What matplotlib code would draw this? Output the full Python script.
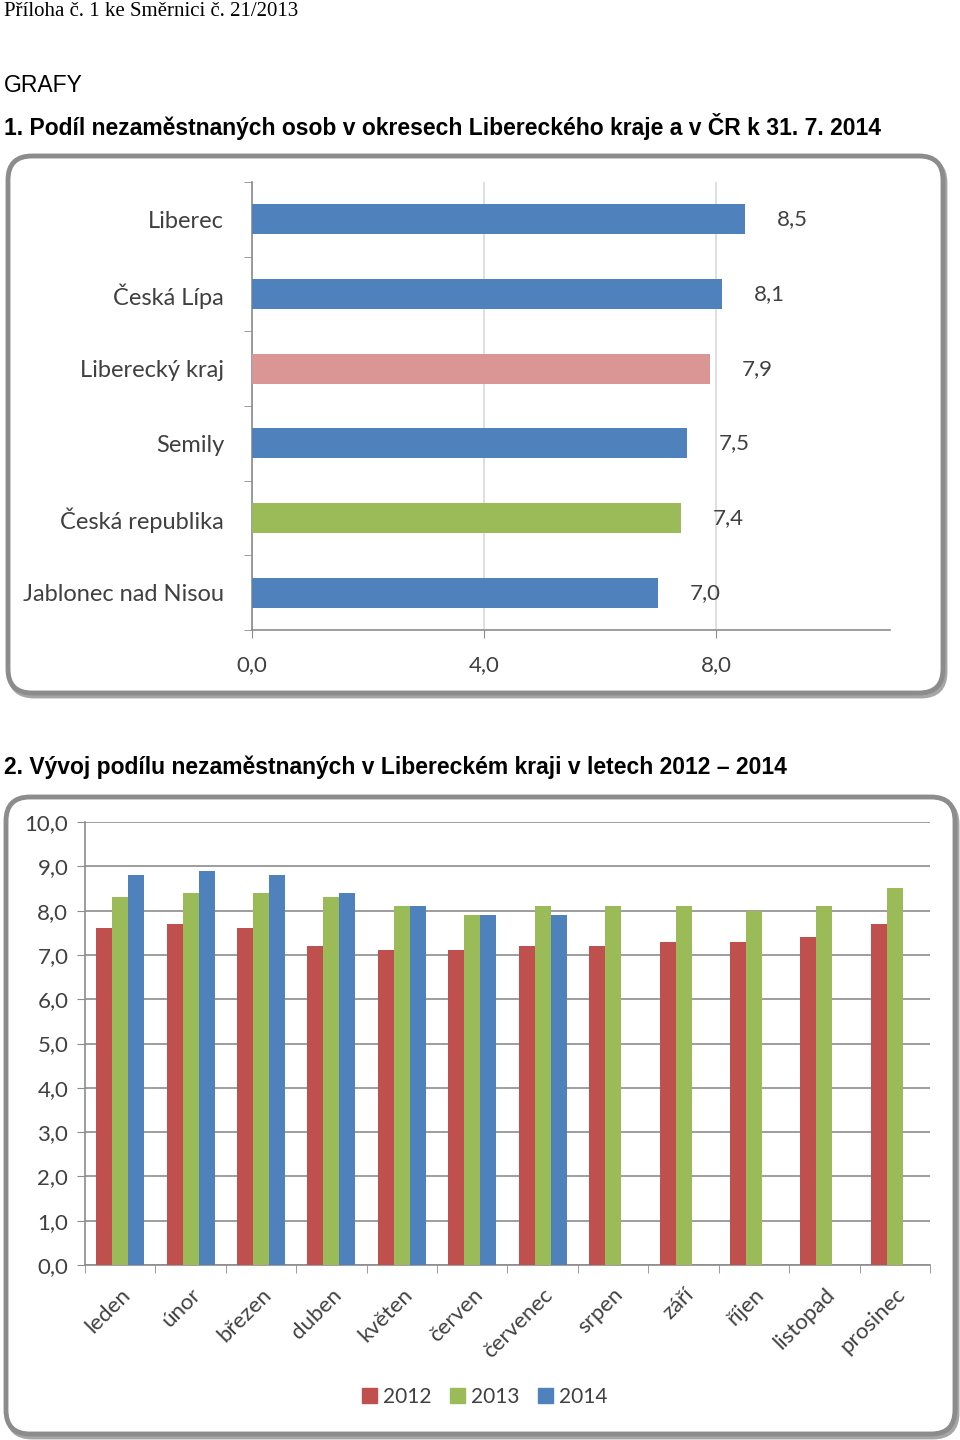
import numpy as np
import matplotlib.pyplot as plt
from matplotlib.patches import FancyBboxPatch, Patch
from matplotlib.ticker import FixedLocator, FuncFormatter

# chart 1 data
okresy = ["Liberec", "Česká Lípa", "Liberecký kraj", "Semily", "Česká republika", "Jablonec nad Nisou"]
podil = [8.5, 8.1, 7.9, 7.5, 7.4, 7.0]
barvy_okresy = ["#4F81BD", "#4F81BD", "#DA9694", "#4F81BD", "#9BBB59", "#4F81BD"]

# chart 2 data
mesice = ["leden", "únor", "březen", "duben", "květen", "červen", "červenec",
          "srpen", "září", "říjen", "listopad", "prosinec"]
roky = ["2012", "2013", "2014"]
r2012 = [7.6, 7.7, 7.6, 7.2, 7.1, 7.1, 7.2, 7.2, 7.3, 7.3, 7.4, 7.7]
r2013 = [8.3, 8.4, 8.4, 8.3, 8.1, 7.9, 8.1, 8.1, 8.1, 8.0, 8.1, 8.5]
r2014 = [8.8, 8.9, 8.8, 8.4, 8.1, 7.9, 7.9]
barvy_roky = ["#C0504D", "#9BBB59", "#4F81BD"]

W, H = 960, 1440
txt = "#404040"
font_chart = ["Lato", "DejaVu Sans"]

fig = plt.figure(figsize=(W / 100, H / 100), dpi=100)


def fax(x0, y0, x1, y1):
    # pixel box -> figure axes
    return fig.add_axes([x0 / W, 1 - y1 / H, (x1 - x0) / W, (y1 - y0) / H])


# background layer for the rounded frames and headings
bg = fig.add_axes([0, 0, 1, 1], zorder=-1)
bg.set_xlim(0, W)
bg.set_ylim(H, 0)
bg.axis("off")

for (x0, y0, x1, y1) in [(8, 156, 943, 693), (6, 797, 955, 1434)]:
    bg.add_patch(FancyBboxPatch((x0 + 2, y0 + 3), x1 - x0, y1 - y0,
                                boxstyle="round,pad=0,rounding_size=24",
                                fc="none", ec="#a6a6a6", lw=3.5))
    bg.add_patch(FancyBboxPatch((x0, y0), x1 - x0, y1 - y0,
                                boxstyle="round,pad=0,rounding_size=24",
                                fc="white", ec="#8c8c8c", lw=3.5))

bg.text(4, 11, "Příloha č. 1 ke Směrnici č. 21/2013", family="Liberation Serif",
        fontsize=15, va="center", ha="left")
bg.text(4, 85, "GRAFY", family="Liberation Sans", fontsize=16.5, va="center", ha="left")
bg.text(4, 126, "1. Podíl nezaměstnaných osob v okresech Libereckého kraje a v ČR k 31. 7. 2014",
        family="Liberation Sans", fontweight="bold", fontsize=16.5, va="center", ha="left")
bg.text(4, 767, "2. Vývoj podílu nezaměstnaných v Libereckém kraji v letech 2012 – 2014",
        family="Liberation Sans", fontweight="bold", fontsize=16.5, va="center", ha="left")

# chart 1
ax1 = fax(252, 182, 890, 630)
y = np.arange(len(okresy))
ax1.barh(y, podil, height=0.4, color=barvy_okresy, zorder=3)
for yi, v in zip(y, podil):
    ax1.text(v + 0.55, yi, f"{v:.1f}".replace(".", ","), va="center", ha="left",
             fontsize=16, color=txt, family=font_chart)
ax1.set_xlim(0, 11)
ax1.set_ylim(len(okresy) - 0.5, -0.5)
ax1.set_xticks([0, 4, 8])
ax1.xaxis.set_major_formatter(FuncFormatter(lambda v, p: f"{v:.1f}".replace(".", ",")))
ax1.set_yticks(y)
ax1.set_yticklabels(okresy)
ax1.yaxis.set_minor_locator(FixedLocator(np.arange(-0.5, len(okresy), 1)))
ax1.tick_params(axis="y", which="major", length=0, pad=20)
ax1.tick_params(axis="y", which="minor", length=6, color="#8c8c8c")
ax1.tick_params(axis="x", length=6, color="#8c8c8c", pad=12)
for lab in ax1.get_xticklabels() + ax1.get_yticklabels():
    lab.set_fontsize(17)
    lab.set_color(txt)
    lab.set_family(font_chart)
for lab in ax1.get_xticklabels():
    lab.set_fontsize(16)
ax1.grid(axis="x", color="#d9d9d9", lw=1.2, zorder=0)
for s in ["top", "right"]:
    ax1.spines[s].set_visible(False)
for s in ["left", "bottom"]:
    ax1.spines[s].set_color("#8c8c8c")
    ax1.spines[s].set_linewidth(1.2)

# chart 2
ax2 = fax(85, 822, 930, 1265)
x = np.arange(len(mesice))
w = 0.227
for i, (vals, c, r) in enumerate(zip([r2012, r2013, r2014], barvy_roky, roky)):
    xi = x[:len(vals)] + (i - 1) * w
    ax2.bar(xi, vals, width=w, color=c, label=r, zorder=3)
ax2.set_xlim(-0.5, len(mesice) - 0.5)
ax2.set_ylim(0, 10)
ax2.set_yticks(np.arange(0, 11, 1))
ax2.yaxis.set_major_formatter(FuncFormatter(lambda v, p: f"{v:.1f}".replace(".", ",")))
ax2.set_xticks(x)
ax2.set_xticklabels(mesice, rotation=45, ha="right", rotation_mode="anchor")
ax2.xaxis.set_minor_locator(FixedLocator(np.arange(-0.5, len(mesice), 1)))
ax2.tick_params(axis="x", which="major", length=0, pad=14)
ax2.tick_params(axis="x", which="minor", length=6, color="#8c8c8c")
ax2.tick_params(axis="y", length=6, color="#8c8c8c", pad=6)
for lab in ax2.get_xticklabels() + ax2.get_yticklabels():
    lab.set_fontsize(16)
    lab.set_color(txt)
    lab.set_family(font_chart)
ax2.grid(axis="y", color="#8c8c8c", lw=1.2, zorder=0)
for s in ["top", "right"]:
    ax2.spines[s].set_visible(False)
for s in ["left", "bottom"]:
    ax2.spines[s].set_color("#8c8c8c")
    ax2.spines[s].set_linewidth(1.2)

handles = [Patch(color=c, label=r) for c, r in zip(barvy_roky, roky)]
fig.legend(handles=handles, loc="center", bbox_to_anchor=(485 / W, 1 - 1397 / H),
           ncol=3, frameon=False, handlelength=0.7, handleheight=0.7,
           handletextpad=0.3, columnspacing=0.9,
           prop={"family": font_chart, "size": 15}, labelcolor=txt)

fig.savefig("out.png", dpi=100)
